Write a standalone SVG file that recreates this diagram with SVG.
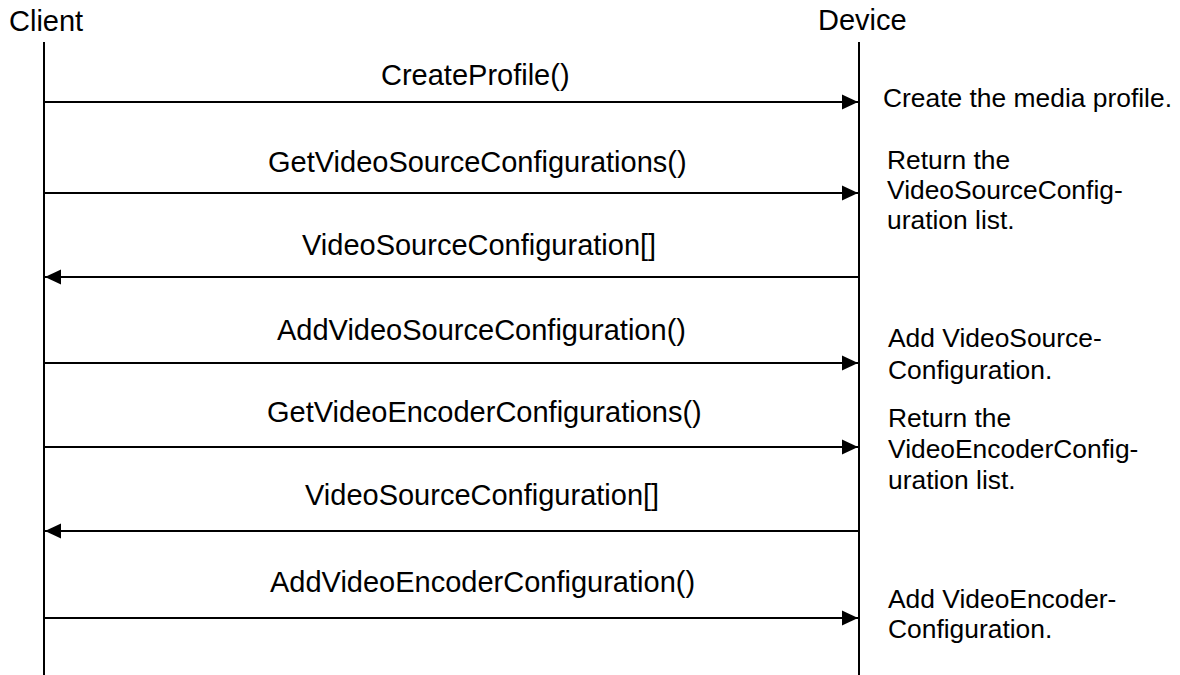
<svg xmlns="http://www.w3.org/2000/svg" width="1180" height="675" viewBox="0 0 1180 675">
<style>
.lbl{font-family:"Liberation Sans",Arial,sans-serif;font-size:29px;fill:#000}
.note{font-family:"Liberation Sans",Arial,sans-serif;font-size:26.4px;fill:#000}
.life{stroke:#000;stroke-width:2;fill:none}
.msg{stroke:#000;stroke-width:2.2;fill:none;marker-end:url(#ah)}
</style>
<defs>
<marker id="ah" markerUnits="userSpaceOnUse" markerWidth="16" markerHeight="16" viewBox="0 0 15 14" refX="15" refY="7" orient="auto">
<path d="M0,0 L15,7 L0,14 Z" fill="#000"/>
</marker>
</defs>
<rect width="1180" height="675" fill="#fff"/>
<g id="client">
<text class="lbl" x="9" y="31">Client</text>
<line class="life" x1="44" y1="42" x2="44" y2="675"/>
</g>
<g id="device">
<text class="lbl" x="818" y="30">Device</text>
<line class="life" x1="859" y1="42" x2="859" y2="675"/>
</g>
<g id="connectors">
<line class="msg" x1="44" y1="102" x2="858" y2="102"/>
<line class="msg" x1="44" y1="193" x2="858" y2="193"/>
<line class="msg" x1="859" y1="277" x2="45" y2="277"/>
<line class="msg" x1="44" y1="363" x2="858" y2="363"/>
<line class="msg" x1="44" y1="447" x2="858" y2="447"/>
<line class="msg" x1="859" y1="531" x2="45" y2="531"/>
<line class="msg" x1="44" y1="618" x2="858" y2="618"/>
</g>
<g id="labels">
<text class="lbl" x="381" y="85">CreateProfile()</text>
<text class="lbl" x="268" y="172">GetVideoSourceConfigurations()</text>
<text class="lbl" x="302" y="255">VideoSourceConfiguration[]</text>
<text class="lbl" x="277" y="340">AddVideoSourceConfiguration()</text>
<text class="lbl" x="267" y="422">GetVideoEncoderConfigurations()</text>
<text class="lbl" x="305" y="505">VideoSourceConfiguration[]</text>
<text class="lbl" x="270" y="592">AddVideoEncoderConfiguration()</text>
</g>
<g id="notes">
<text class="note" x="883" y="107">Create the media profile.</text>
<text class="note" x="887" y="169"><tspan x="887">Return the</tspan><tspan x="887" dy="30">VideoSourceConfig-</tspan><tspan x="887" dy="30">uration list.</tspan></text>
<text class="note" x="888" y="347"><tspan x="888">Add VideoSource-</tspan><tspan x="888" dy="32">Configuration.</tspan></text>
<text class="note" x="888" y="427"><tspan x="888">Return the</tspan><tspan x="888" dy="31">VideoEncoderConfig-</tspan><tspan x="888" dy="31">uration list.</tspan></text>
<text class="note" x="888" y="608"><tspan x="888">Add VideoEncoder-</tspan><tspan x="888" dy="30">Configuration.</tspan></text>
</g>
</svg>
